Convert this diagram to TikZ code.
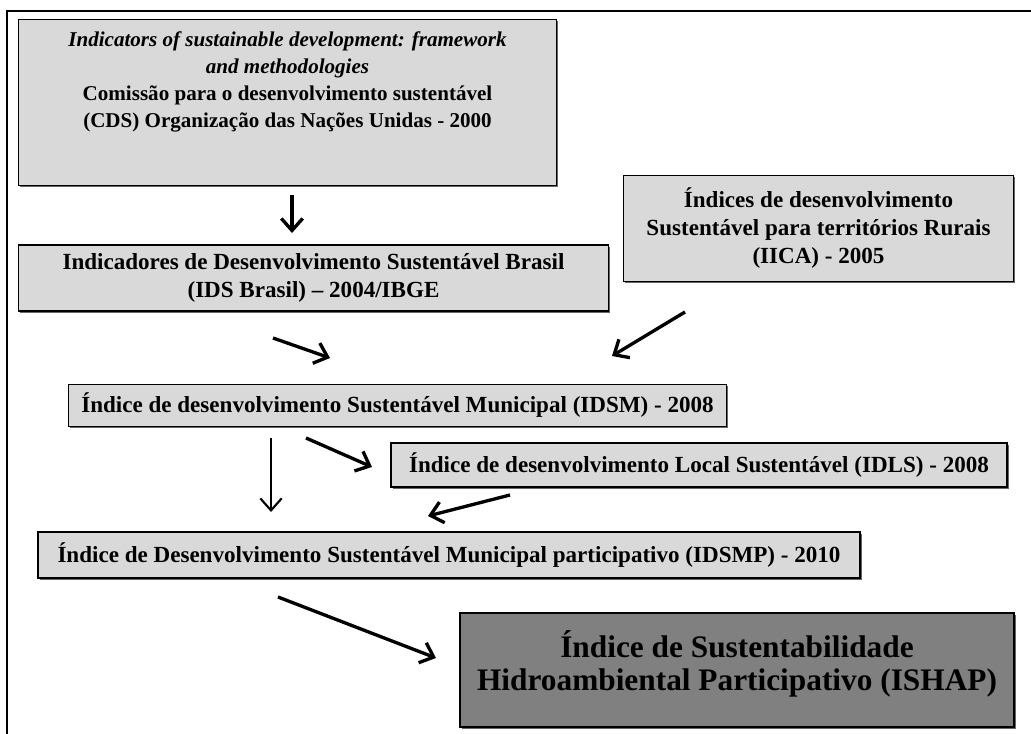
\documentclass[tikz,border=0pt]{standalone}
\usepackage{fontspec}
\setmainfont{Liberation Serif}
\usetikzlibrary{arrows.meta,shadows}
\definecolor{boxgray}{RGB}{217,217,217}
\definecolor{darkbox}{RGB}{128,128,128}

\begin{document}
\begin{tikzpicture}[
    x=0.75pt, y=-0.75pt,
    box/.style={draw, line width=0.9pt, fill=boxgray, inner sep=0pt, align=center,
                font=\fontsize{17.3}{21}\selectfont\bfseries,
                drop shadow={shadow xshift=1.2pt, shadow yshift=-1.2pt,
                             fill=black!60, opacity=1}},
    arr/.style={-{Straight Barb[length=9pt, width=16pt]}, line width=2.5pt}
]
\useasboundingbox (0,0) rectangle (1031,734);

% frame
\draw[line width=1.5pt] (7,734) -- (7,11) -- (1031,11);

% boxes
\node[box, minimum width=404pt, minimum height=124pt] (cds) at (287.5,102.5)
  {\parbox[c][118pt][t]{400pt}{\centering\fontsize{15.8}{20.3}\selectfont\vspace*{6pt}%
   \textit{Indicators of sustainable development: framework}\\
   \textit{and methodologies}\\
   Comissão para o desenvolvimento sustentável\\
   (CDS) Organização das Nações Unidas - 2000}};
\node[box, minimum width=442pt, minimum height=49.5pt] (idsbr) at (313.5,278)
  {Indicadores de Desenvolvimento Sustentável Brasil\\(IDS Brasil) -- 2004/IBGE};
\node[box, minimum width=293pt, minimum height=79pt] (iica) at (818.5,228.5)
  {Índices de desenvolvimento\\Sustentável para territórios Rurais\\(IICA) - 2005};
\node[box, minimum width=493pt, minimum height=32pt] (idsm) at (397.5,405.5)
  {Índice de desenvolvimento Sustentável Municipal (IDSM) - 2008};
\node[box, minimum width=462pt, minimum height=33pt] (idls) at (699,465)
  {Índice de desenvolvimento Local Sustentável (IDLS) - 2008};
\node[box, minimum width=616.5pt, minimum height=34.5pt] (idsmp) at (449,555)
  {Índice de Desenvolvimento Sustentável Municipal participativo (IDSMP) - 2010};
\node[box, fill=darkbox, minimum width=415.5pt, minimum height=85.5pt] (ishap) at (737,670)
  {\parbox[c][80pt][c]{410pt}{\centering\fontsize{23.5}{25}\selectfont
   Índice de Sustentabilidade\\Hidroambiental Participativo (ISHAP)\par\vspace*{9pt}}};

% arrow ends
\coordinate (a1s) at (292,195);  \coordinate (a1e) at (292,233);
\coordinate (a2s) at (273,338);  \coordinate (a2e) at (330,358);
\coordinate (a3s) at (685,312);  \coordinate (a3e) at (612,356);
\coordinate (a4s) at (306,438);  \coordinate (a4e) at (372,467);
\coordinate (a5s) at (271,438);  \coordinate (a5e) at (271,512);
\coordinate (a6s) at (510,495);  \coordinate (a6e) at (428,516);
\coordinate (a7s) at (278,597);  \coordinate (a7e) at (436,658);

\draw[arr] (a1s) -- (a1e);
\draw[arr] (a2s) -- (a2e);
\draw[arr] (a3s) -- (a3e);
\draw[arr] (a4s) -- (a4e);
\draw[arr, line width=1.6pt] (a5s) -- (a5e);
\draw[arr] (a6s) -- (a6e);
\draw[arr] (a7s) -- (a7e);

\end{tikzpicture}
\end{document}
